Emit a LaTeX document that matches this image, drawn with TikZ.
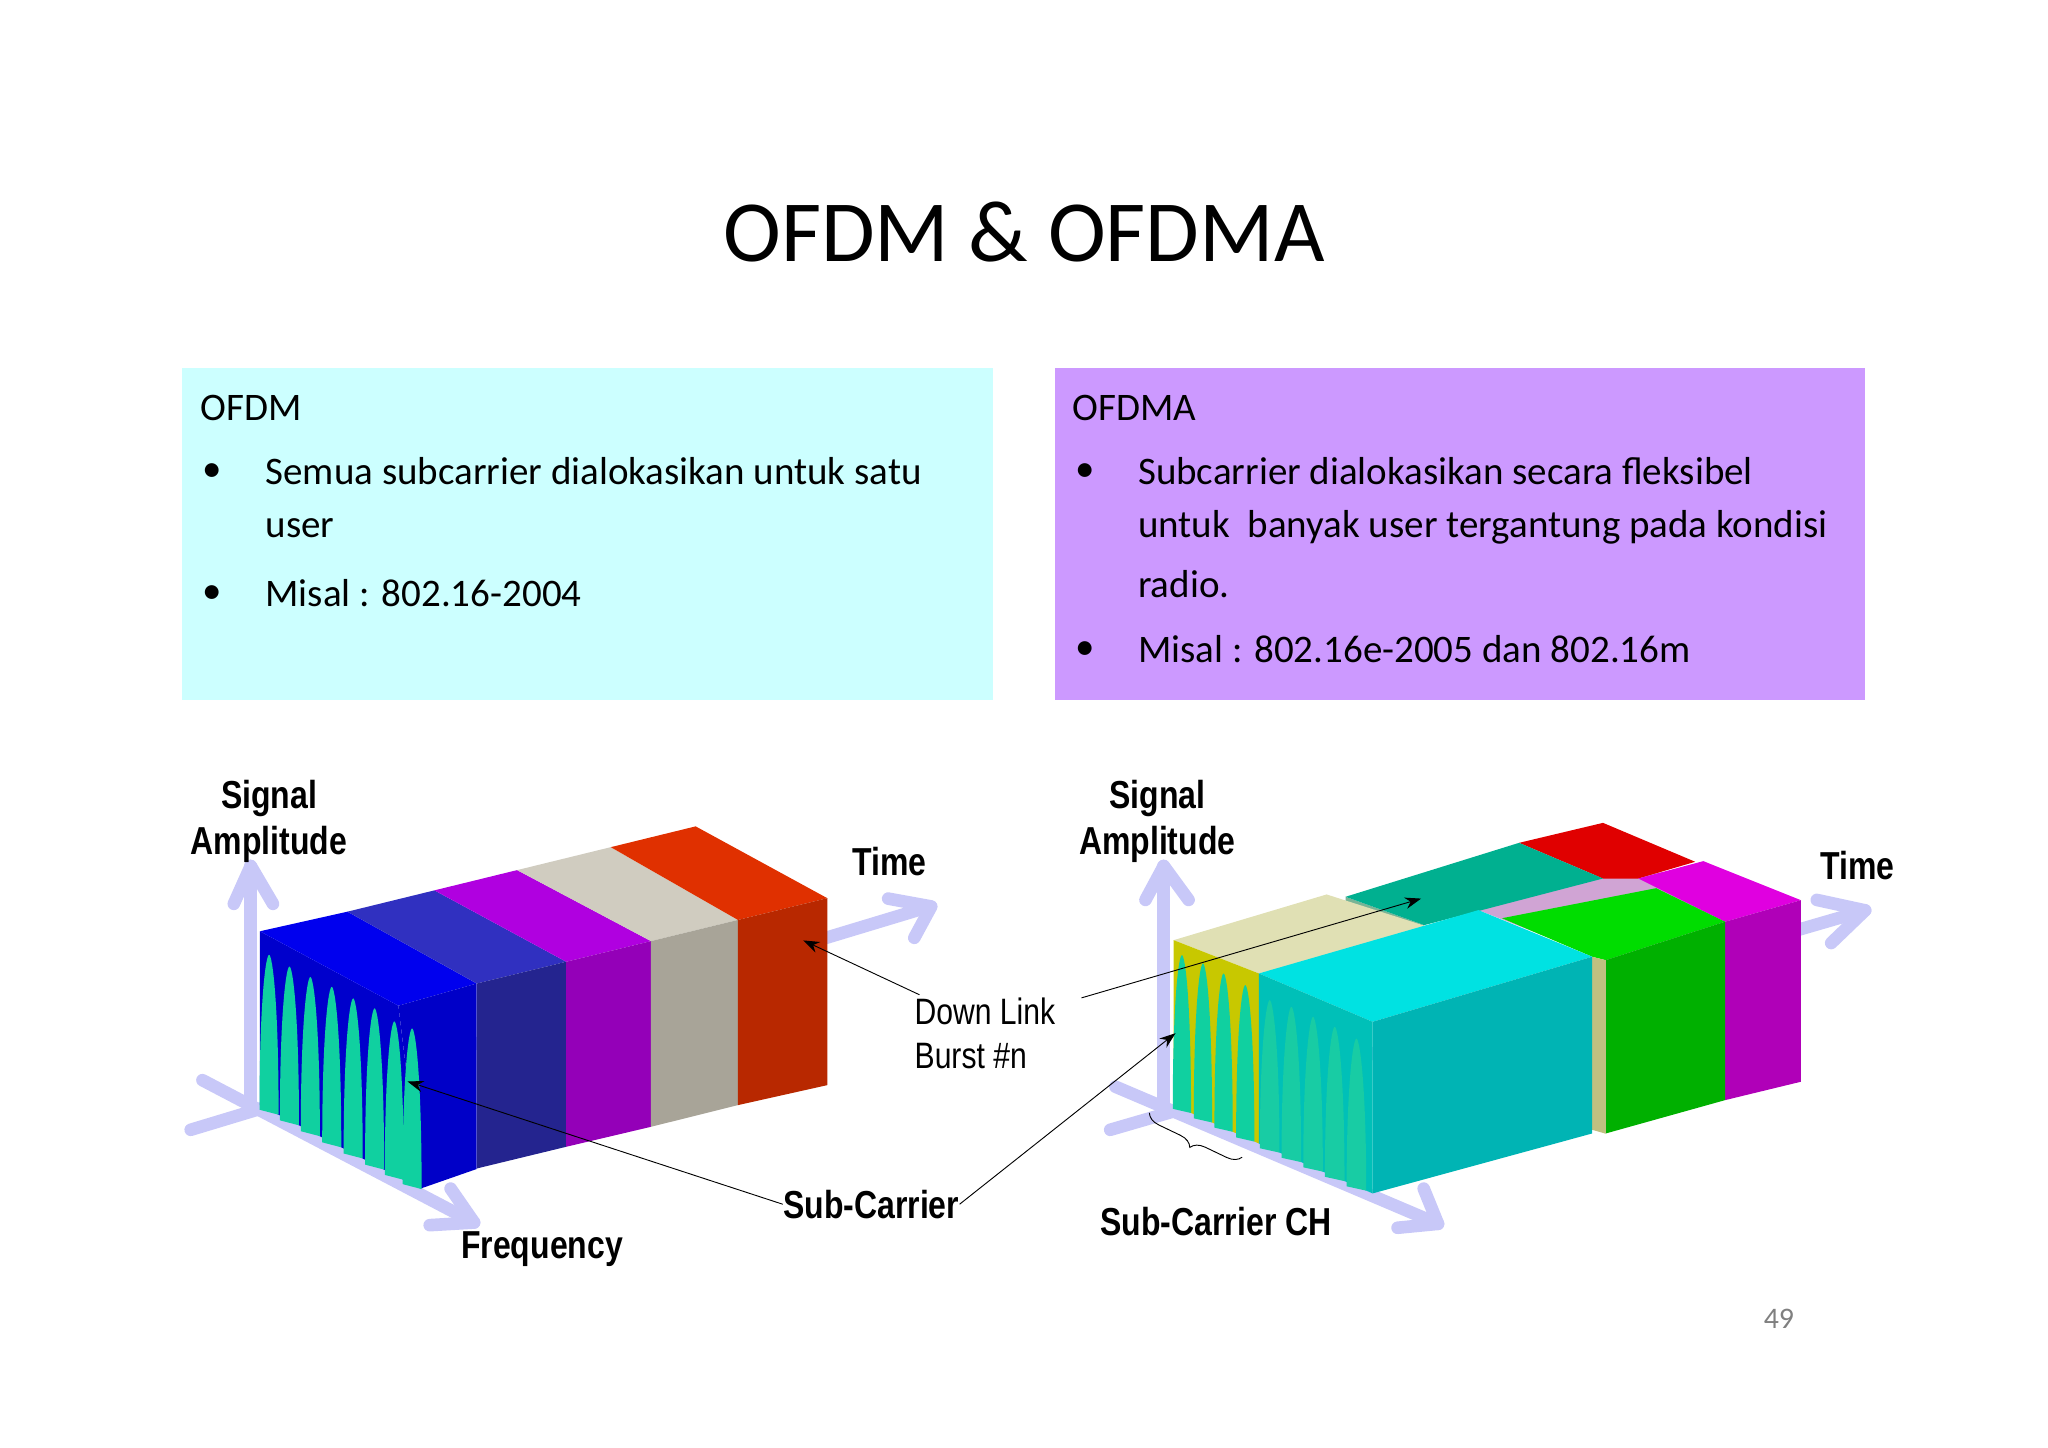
\documentclass[tikz,border=0pt]{standalone}
\usepackage{fontspec}
\setmainfont{Carlito}
\newfontfamily\arialn{Liberation Sans}
\usetikzlibrary{arrows.meta,decorations.pathreplacing}

\definecolor{axiscol}{HTML}{C8C8F8}
\definecolor{peakcol}{HTML}{10D0A0}

\begin{document}
\begin{tikzpicture}[x=0.02cm,y=-0.02cm,
		axis/.style={axiscol,line width=5.5pt,line cap=round,line join=round},
		lbl/.style={font=\arialn\bfseries\fontsize{17}{20}\selectfont,xscale=0.82,align=center,inner sep=0pt},
		note/.style={font=\arialn\fontsize{16}{19}\selectfont,xscale=0.82,align=left,inner sep=0pt,anchor=west},
		txt/.style={font=\fontsize{17}{19}\selectfont,anchor=west,inner sep=0pt},
		ptr/.style={-{Stealth[length=7pt,width=5pt]},black,thin},
		peak/.style={fill=peakcol}
	]
	\useasboundingbox (0,0) rectangle (1568,1108);
	
	% title and text boxes
	\node[font=\fontsize{38}{42}\selectfont] (title) at (784,178) {OFDM \& OFDMA};
	\fill[fill={rgb,255:red,204;green,255;blue,255}] (139,282) rectangle (760,536);
	\fill[fill={rgb,255:red,204;green,153;blue,255}] (808,282) rectangle (1428,536);
	
	\node[txt] (ofdm) at (153,312) {OFDM};
	\node[txt] (b1) at (155,362) {\textbullet};
	\node[txt] (l1) at (203,361) {Semua subcarrier dialokasikan untuk satu};
	\node[txt] (l2) at (203,404) {user};
	\node[txt] (b2) at (155,455) {\textbullet};
	\node[txt] (l3) at (203,454) {Misal : 802.16-2004};
	
	\node[txt] (ofdma) at (821,312) {OFDMA};
	\node[txt] (b3) at (823,362) {\textbullet};
	\node[txt] (r1) at (871,361) {Subcarrier dialokasikan secara fleksibel};
	\node[txt] (r2) at (871,404) {untuk\ \ banyak user tergantung pada kondisi};
	\node[txt] (r3) at (871,447) {radio.};
	\node[txt] (b4) at (823,498) {\textbullet};
	\node[txt] (r4) at (871,497) {Misal : 802.16e-2005 dan 802.16m};
	
	\node[font=\fontsize{13}{15}\selectfont,text=gray] (page) at (1362,1010) {49};
	
	% ---- OFDM block ----
	\draw[axis] (146,865) -- (712,694);
	\draw[axis] (680,688) -- (713,694) -- (700,718);
	\draw[axis] (192,850) -- (192,663);
	\draw[axis] (179,692) -- (192,663) -- (209,692);
	\draw[axis] (155,827) -- (363,936);
	\draw[axis] (329,938) -- (363,936) -- (345,910);
	
	\fill[fill={rgb,255:red,0;green,0;blue,204}] (199,713) -- (305,770) -- (322,910) -- (199,846) -- cycle;
	\fill[fill={rgb,255:red,0;green,0;blue,238}] (199,713) -- (266,698) -- (365,753) -- (305,770) -- cycle;
	\fill[fill={rgb,255:red,0;green,0;blue,200}] (305,770) -- (365,753) -- (365,895) -- (322,910) -- cycle;
	\foreach \ba/\bb/\fa/\fb/\ya/\yb/\ct/\cf in {
		266/332.6/365.1/433.5/894.6/878/3030C0/24248F,
		332.6/395.9/433.5/498.4/878/862.7/B000E0/9400B8,
		395.9/467.6/498.4/565/862.7/846.1/D0CCC0/A8A498,
		467.6/532.6/565/633.4/846.1/830.8/E03000/B82800}{
		\pgfmathsetmacro\yba{698-(\ba-266)*0.2450}
		\pgfmathsetmacro\ybb{698-(\bb-266)*0.2450}
		\pgfmathsetmacro\yfa{753-(\fa-365.1)*0.2435}
		\pgfmathsetmacro\yfb{753-(\fb-365.1)*0.2435}
		\definecolor{tc}{HTML}{\ct}\definecolor{fc}{HTML}{\cf}
		\fill[tc] (\ba,\yba) -- (\bb,\ybb) -- (\fb,\yfb) -- (\fa,\yfa) -- cycle;
		\fill[fc] (\fa,\yfa) -- (\fb,\yfb) -- (\fb,\yb) -- (\fa,\ya) -- cycle;
	}
	\foreach \px/\pt in {206/731,221.6/740,237.6/748,254/755.5,270.4/764.4,286.8/772,301.9/782,315.5/787.4}{
		\pgfmathsetmacro\pb{846+(\px-199)*0.52}
		\fill[peak] (\px-7.3,\pb) .. controls (\px-7.3,\pt+35) and (\px-2.5,\pt) .. (\px,\pt)
			.. controls (\px+2.5,\pt) and (\px+7.3,\pt+35) .. (\px+7.3,\pb+3.8) -- cycle;
	}
	
	\node[lbl] (ampl) at (206,629) {Signal\\Amplitude};
	\node[lbl] (time) at (681,660) {Time};
	\node[lbl] (freq) at (415,956) {Frequency};
	\node[lbl] (sub) at (667,922) {Sub-Carrier};
	\node[note] (dl) at (700,791) {Down Link\\Burst \#n};
	\coordinate (subtip) at (312,828);
	\coordinate (redtip) at (615,720);
	\draw[ptr] (sub.west) -- (subtip);
	\draw[ptr] (dl.north west) ++(4,-2) -- (redtip);
	
	% ---- OFDMA block ----
	\draw[axis] (850,865) -- (1428,697);
	\draw[axis] (1391,689) -- (1428,697) -- (1402,722);
	\draw[axis] (891,846) -- (891,663);
	\draw[axis] (877,689) -- (891,663) -- (910,689);
	\draw[axis] (854,832) -- (1101,937);
	\draw[axis] (1070,940) -- (1101,937) -- (1090,910);
	
	\fill[fill={rgb,255:red,208;green,164;blue,212}] (1088,708.3) -- (1227,668) -- (1280,668) -- (1320.7,705.7) -- (1229.4,735.1) -- (1131.9,696.8) -- cycle;
	\fill[fill={rgb,255:red,224;green,0;blue,0}] (1163,645.3) -- (1227.3,630) -- (1297.9,659.8) -- (1254.3,672.6) -- (1227.3,672.6) -- cycle;
	\fill[fill={rgb,255:red,224;green,0;blue,224}] (1254.3,672.6) -- (1304.1,659.3) -- (1378.8,689.2) -- (1320.7,705.7) -- cycle;
	\fill[fill={rgb,255:red,176;green,0;blue,184}] (1320.7,705.7) -- (1378.8,689.2) -- (1378.8,828.2) -- (1320.7,842.3) -- cycle;
	\fill[fill={rgb,255:red,120;green,180;blue,150}] (1030.2,686.6) -- (1090.4,708.3) -- (1090.4,711) -- (1030.2,690) -- cycle;
	\fill[fill={rgb,255:red,0;green,176;blue,144}] (1030.2,686.6) -- (1163,645.3) -- (1227.3,672.6) -- (1090.4,708.3) -- cycle;
	\fill[fill={rgb,255:red,0;green,221;blue,0}] (1150,703) -- (1268,680) -- (1320.7,705.7) -- (1229.4,735.1) -- (1219,732.5) -- cycle;
	\fill[fill={rgb,255:red,0;green,176;blue,0}] (1229.4,735.1) -- (1320.7,705.7) -- (1320.7,842.3) -- (1229.4,867.8) -- cycle;
	\fill[fill={rgb,255:red,192;green,192;blue,128}] (1219,732.5) -- (1229.4,735.1) -- (1229.4,868) -- (1219,865) -- cycle;
	\fill[fill={rgb,255:red,224;green,224;blue,180}] (898.6,719.8) -- (1015.7,684.8) -- (1094.5,710) -- (963.8,745.3) -- cycle;
	\fill[fill={rgb,255:red,200;green,200;blue,0}] (898.6,719.8) -- (963.8,745.3) -- (963.8,875.5) -- (898.6,846.1) -- cycle;
	\foreach \px/\pt in {904.9/731.3,921/737.6,936.8/745.3,953.4/754.2}{
		\pgfmathsetmacro\pb{846.1+(\px-898.6)*0.451}
		\fill[peak] (\px-7,\pb) .. controls (\px-7,\pt+35) and (\px-2.5,\pt) .. (\px,\pt)
			.. controls (\px+2.5,\pt) and (\px+7,\pt+35) .. (\px+7,\pb+3.2) -- cycle;
	}
	\fill[fill={rgb,255:red,0;green,226;blue,226}] (963.8,745.3) -- (1131.9,696.8) -- (1219,732.5) -- (1050.9,782.3) -- cycle;
	\fill[fill={rgb,255:red,0;green,192;blue,184}] (963.8,745.3) -- (1050.9,782.3) -- (1050.9,913.7) -- (963.8,875.5) -- cycle;
	\fill[fill={rgb,255:red,0;green,180;blue,180}] (1050.9,782.3) -- (1219,732.5) -- (1219,867.8) -- (1050.9,913.7) -- cycle;
	\foreach \px/\pt in {972.1/765.7,988.7/770.8,1005.3/778.5,1021.9/786.1,1038.5/795.1}{
		\pgfmathsetmacro\pb{875.5+(\px-963.8)*0.4386}
		\fill[fill={rgb,255:red,24;green,204;blue,164}] (\px-7.5,\pb) .. controls (\px-7.5,\pt+35) and (\px-2.5,\pt) .. (\px,\pt)
			.. controls (\px+2.5,\pt) and (\px+7.5,\pt+35) .. (\px+7.5,\pb+3.3) -- cycle;
	}
	\draw[decorate,decoration={brace,amplitude=6pt,mirror},thin] (880,852) -- (951,886);
	
	\node[lbl] (ampl2) at (886,629) {Signal\\Amplitude};
	\node[lbl] (time2) at (1422,663) {Time};
	\node[lbl] (subch) at (931,935) {Sub-Carrier CH};
	\coordinate (cyantip) at (900,791);
	\coordinate (tealtip) at (1088,688);
	\coordinate (dlstart) at (828,764);
	\draw[ptr] (sub.east) -- (cyantip);
	\draw[ptr] (dlstart) -- (tealtip);
\end{tikzpicture}
\end{document}
